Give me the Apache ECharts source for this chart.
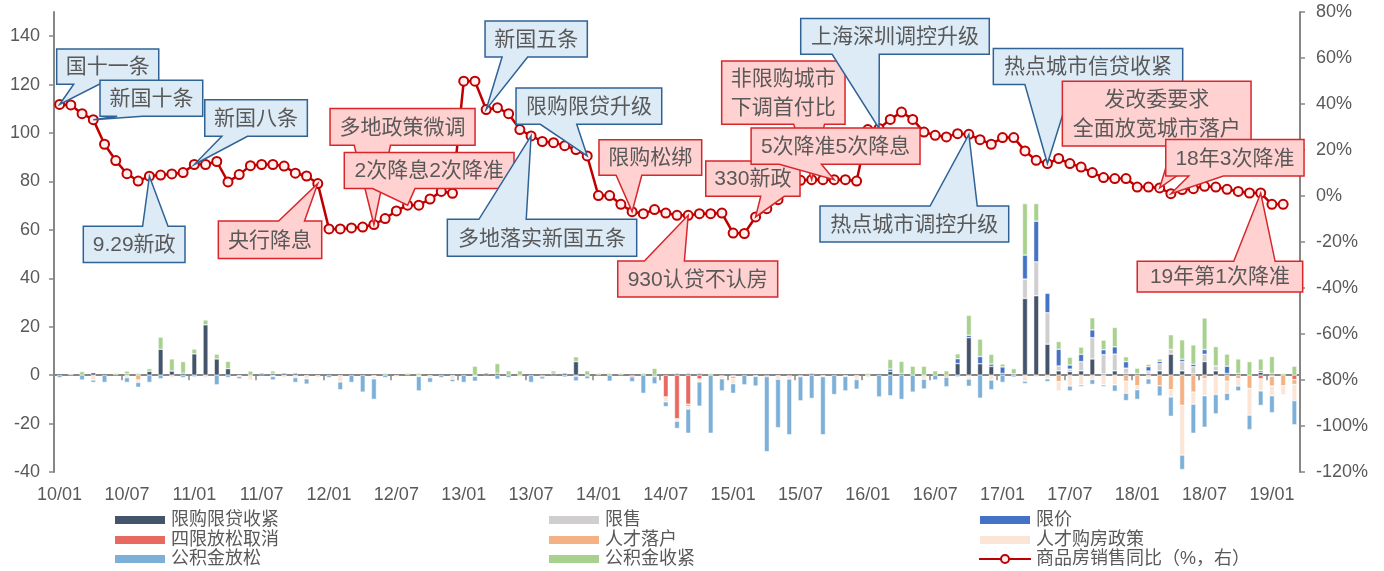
<!DOCTYPE html>
<html>
<head>
<meta charset="utf-8">
<script src="https://cdn.jsdelivr.net/npm/echarts@6/dist/echarts.min.js"></script>
<style>
html,body{margin:0;padding:0;background:#fff;}
#chart{width:1384px;height:571px;}
</style>
</head>
<body>
<div id="chart"></div>
<script>
// ---------- categories (2010/01 .. 2019/03, monthly) ----------
const startYear = 10, monthCount = 111;
const categories = [];
for (let k = 0; k < monthCount; k++) {
  const y = startYear + Math.floor(k / 12), m = (k % 12) + 1;
  categories.push(String(y).padStart(2, '0') + '/' + String(m).padStart(2, '0'));
}
const leftTicks = [-40, -20, 0, 20, 40, 60, 80, 100, 120, 140];

// ---------- bar series (left axis) ----------
const tightenPurchase = [ // 限购限贷收紧
0,0,0,1,0,0,0.5,0,1.6,10.7,
1.7,0.8,8.8,20.8,6.7,2.7,0,0,0,0.8,
0.8,0.8,0,0,0,0,0,0,0,0,
0,0,0,0,0,0,0,0,0.8,0.8,
0,0,0,0,0.8,0.8,5.6,0,0,0,
0,0,0,0,0,0.7,0.7,0.7,0,0,
0,0,0,0,0,0,0,0.7,0,0,
0,0,0,0,1.5,0.7,0,0,0,0,
4.8,15.5,4.7,3.6,0.7,0.5,31.7,32.8,12.8,1.8,
1.5,1.8,6.7,0.5,1.8,0.7,0.7,0.7,1.8,8.7,
1.8,0.5,5.6,1.8,0.7,0.7,0,1.2,0.7,0,0];
const limitSale = [ // 限售
0,0,0,0,0,0,0,0,0,0,
0,0,0,0,0,0,0,0,0,0,
0,0,0,0,0,0,0,0,0,0,
0,0,0,0,0,0,0,0,0,0,
0,0,0,0,0,0,0,0,0,0,
0,0,0,0,0,0,0,0,0,0,
0,0,0,0,0,0,0,0,0,0,
0,0,0,0,0,0,0,0,0,0,
0,0,0,0,0,0,8,14,13,2,
1,3.8,8.8,8,6.9,2.2,0,1,2.9,2,
3.8,3,3,2,0,0,0,0,0,0,0];
const limitPrice = [ // 限价
0,0,0,0,0,0,0,0,0,0,
0,0,0,0,0,0,0,0,0.8,0,
0,0,0,0,0,0,0,0,0,0,
0,0,0,0,0,0,0,0,0,0,
0,0,0,0,0,0,0,0,0,0,
0,0,0,0,0,0,0,0,0,0,
0,0,0,0,0,0,0,0,0,0,
0,0,0,0,1,0,0,0,0,0,
2,1,3,1,2.7,0,9.9,16.8,8,6.9,
1.7,3,3.2,2,3,2.7,0,1.8,1,0,
1,1,2,0,3,0,0,0.7,0,0,0];
const relaxCancel = [ // 四限放松取消
0,0,0,0,0,0,0,0,0,0,
0,0,0,0,0,0,0,0,0,0,
0,0,0,0,0,0,0,0,0,0,
0,0,0,0,0,0,0,0,0,0,
0,0,0,-0.6,0,0,-0.4,0,0,0,
0,-0.7,0,-0.6,-9,-18,-12,-1.6,0,-0.5,
-0.5,0,0,-0.6,0,-0.6,0,0,0,0,
0,0,0,0,0,0,0,0,0,0,
0,0,0,0,0,0,0,0,0,0,
0,0,0,0,0,0,0,0,0,0,
0,0,0,0,0,0,0,-1.5,-0.5,0,-1.8];
const talentHukou = [ // 人才落户
0,0,0,0,0,0,0,-2,0,0,
0,0,0,0,0,0,0,0,0,0,
0,0,0,0,0,0,0,0,-0.5,0,
0,0,0,0,0,0,0,0,0,0,
0,0,0,0,0,0,0,0,0,0,
0,0,0,0,0,0,-1,0,0,0,
-1,0,0,0,0,0,-0.6,0,0,0,
0,0,0,0,0,0,0,0,0,-0.8,
0,-0.6,0,0,0,0,0,0,0,-2.7,
0,0,0,0,0,-2.5,-4.4,0,-4.4,-6,
-12.5,-7,-1.5,0,-2.5,-1.5,-5.5,0,-4,-4.4,-2];
const talentHousing = [ // 人才购房政策
0,0,0,-2,0,0,-1,-1,0,0,
-1,0,0,-1,0,0,-0.5,-2,0,-0.5,
-1,-1,-1.5,-1,0,-2.8,0,0,-1,0,
-0.7,0,-0.5,-1,0,-1.7,0,-0.5,0,0,
0,-0.7,0,0,0,0,0,-0.3,0,0,
0,0,0,0,-2,-1,-1,-1.2,0,-1,
-2,0,-0.5,0,-1.7,-1,0,0,-0.6,0,
-0.5,-1.8,-1,0,0,0,0,-1.7,0,0,
0,-1,0,-2,0,0,-2.5,-0.8,-1.5,-3.8,
-4.5,-4,-1.8,-4,-4,-5,-1.6,-1.5,0,-3,
-20.5,-5,-7,-8,-5,-3,-11,-5,-4,-3.7,-6.7];
const fundRelax = [ // 公积金放松
-1,0,-2,-1,-3,0,-2,-2,-3,-1.5,
0,-1,-0.7,0,-4,-1,-1,0,0,-1.5,
0,-2,-2.2,0,-1,-3.2,-3,-7,-8.5,-1,
0,0,-6,-2,-1,-1,-3,-2,0,-1.7,
-1,0,-3,-1,0,-0.8,-2,-1.2,0,-2.5,
0,-2,-7.5,-3,-2,-3,-10,-10,-24,-5,
-4,-4,-4,-31,-20,-23,-10,-9.6,-24,-8,
-6,-4,0,-9,-8.5,-10,-7,-4,-2,-4,
-0.7,-3,-9.5,-4,-3,-0.8,-1,0,-1.2,0,
-2,-0.7,-2,-0.7,-2.7,-3,-4,-2.3,-4.2,-8,
-6,-12,-13,-8,-3,-2,-6,-6,-7,0,-10];
const fundTighten = [ // 公积金收紧
0,0.5,1.5,0,0,0.8,1.2,0.7,1.1,5,
5,4.8,2,2,2,3,0,1.7,0,1,
0,0,0,0,0,0,0,0,0,0.8,
0,0.8,0.8,0,0,0,0,3.7,0,4,
1.8,1.8,0,0,1,0,2,1.8,0.8,0.8,
0.8,0,0.8,2.8,0,0,0,0,0.7,0,
0,0,0,0,0,0,0,0,0,0,
0,0,0.8,0,4,5,3.7,3.7,1.8,1.8,
2,8.2,7.2,4,1.2,2.2,21.3,7.3,0,3.2,
3.2,3,5,4,8,2,2.2,1,1,6,
8,8,13,8,5,6,5.6,4.8,7,0.7,3.7];

// ---------- line series (right axis, %) ----------
const salesYoY = [
39.8,39.6,35.8,33.2,22.5,15.4,9.7,6.5,8.6,9.1,
9.6,10.2,13.7,13.7,15.0,6.1,9.3,13.2,13.7,13.7,
13.0,9.9,8.7,5.4,-14.3,-14.3,-13.9,-13.5,-12.4,-9.8,
-6.5,-4.0,-4.0,-1.3,2.0,1.2,49.9,49.9,37.6,38.4,
35.8,28.9,26.1,23.7,23.2,21.9,20.2,17.4,0.2,0.2,
-3.6,-6.8,-7.7,-5.9,-7.4,-8.4,-8.4,-7.7,-7.7,-7.4,
-16.1,-16.3,-9.1,-5.5,-1.6,2.5,6.8,7.1,7.1,7.1,
7.1,6.5,28.9,29.4,33.3,36.5,33.3,27.8,26.4,25.7,
27.1,26.8,24.5,22.5,25.4,25.4,19.6,15.5,14.1,16.3,
14.1,12.6,10.2,8.0,7.6,7.6,3.9,3.9,3.5,1.0,
2.8,3.2,4.2,3.9,2.9,2.0,1.3,1.3,-3.6,-3.6];

// ---------- callout annotations: text, anchor point index, box in (category index, % axis) ----------
const callouts = [
  {text:'国十一条', kind:'b', tip:0, box:[-0.26, 8.83, 63.9, 48.6]},
  {text:'新国十条', kind:'b', tip:3, box:[3.6, 12.75, 50.3, 34.65]},
  {text:'新国八条', kind:'b', tip:12, box:[12.93, 22.07, 41.9, 25.96]},
  {text:'9.29新政', kind:'b', tip:8, box:[2.11, 11.17, -13.17, -28.96]},
  {text:'央行降息', kind:'r', tip:23, box:[14.14, 23.35, -10.87, -27.2]},
  {text:'多地政策微调', kind:'r', tip:28, box:[24.09, 37.01, 38.0, 22.04]},
  {text:'2次降息2次降准', kind:'r', tip:31, box:[25.36, 40.48, 18.87, 3.22]},
  {text:'新国五条', kind:'b', tip:38, box:[37.9, 47.01, 76.1, 60.4]},
  {text:'限购限贷升级', kind:'b', tip:47, box:[40.66, 53.64, 46.96, 31.17]},
  {text:'多地落实新国五条', kind:'b', tip:42, box:[34.54, 51.41, -10.13, -26.2]},
  {text:'限购松绑', kind:'r', tip:51, box:[48.05, 57.2, 24.5, 9.0]},
  {text:'930认贷不认房', kind:'r', tip:56, box:[49.72, 63.97, -28.26, -43.9]},
  {text:'330新政', kind:'r', tip:62, box:[57.56, 65.96, 15.2, -0.13]},
  {text:'非限购城市\n下调首付比', kind:'r', tip:67, box:[58.98, 69.97, 58.7, 31.17]},
  {text:'上海深圳调控升级', kind:'b', tip:73, box:[66.02, 82.82, 77.13, 61.6]},
  {text:'5次降准5次降息', kind:'r', tip:69, box:[61.6, 76.65, 29.57, 13.78]},
  {text:'热点城市调控升级', kind:'b', tip:81, box:[67.74, 84.55, -4.35, -20.0]},
  {text:'热点城市信贷收紧', kind:'b', tip:88, box:[83.18, 100.05, 64.1, 48.43]},
  {text:'发改委要求\n全面放宽城市落户', kind:'r', tip:98, box:[89.33, 106.14, 49.87, 21.74]},
  {text:'18年3次降准', kind:'r', tip:99, box:[98.54, 110.86, 24.52, 8.7]},
  {text:'19年第1次降准', kind:'r', tip:107, box:[96.0, 110.74, -28.4, -41.7]}
];

// ---------- styling ----------
const AXIS = '#868686', TXT = '#595959';
const NUMFONT = '"Liberation Sans", Arial, "Noto Sans CJK SC", sans-serif';
const CJKFONT = '"Liberation Sans", "Noto Sans CJK SC", sans-serif';
const barNames = ['限购限贷收紧','限售','限价','四限放松取消','人才落户','人才购房政策','公积金放松','公积金收紧'];
const barData = [tightenPurchase, limitSale, limitPrice, relaxCancel, talentHukou, talentHousing, fundRelax, fundTighten];
const barColors = ['#44546A','#D0CECE','#4472C4','#E8695F','#F4B183','#FBE5D6','#7DB0D8','#A9D18E'];
const lineName = '商品房销售同比（%，右）';

function calloutPoints(L, T, R, B, tx, ty) {
  const w = R - L, h = B - T, cx = (L + R) / 2, cy = (T + B) / 2;
  const dx = tx - cx, dy = ty - cy;
  const dq = dx * h / w;
  if (Math.abs(dy) - Math.abs(dq) > 0) {
    const x1 = L + w * (dx > 0 ? 7 : 2) / 12, x2 = L + w * (dx > 0 ? 10 : 5) / 12;
    if (dy < 0) return [[L,T],[x1,T],[tx,ty],[x2,T],[R,T],[R,B],[L,B]];
    return [[L,T],[R,T],[R,B],[x2,B],[tx,ty],[x1,B],[L,B]];
  } else {
    const y1 = T + h * (dy > 0 ? 7 : 2) / 12, y2 = T + h * (dy > 0 ? 10 : 5) / 12;
    if (dx < 0) return [[L,T],[R,T],[R,B],[L,B],[L,y2],[tx,ty],[L,y1]];
    return [[L,T],[R,T],[R,y1],[tx,ty],[R,y2],[R,B],[L,B]];
  }
}

const series = [];
barNames.forEach((n, k) => {
  series.push({
    name: n, type: 'bar', stack: 'policy', xAxisIndex: 0, yAxisIndex: 0,
    barWidth: 5,
    itemStyle: {color: barColors[k], borderColor: '#ffffff', borderWidth: 0.5},
    data: barData[k].map(v => v === 0 ? null : v)
  });
});
series.push({
  name: lineName, type: 'line', xAxisIndex: 0, yAxisIndex: 1,
  data: salesYoY, symbol: 'circle', symbolSize: 9, z: 4, showAllSymbol: true,
  lineStyle: {color: '#C00000', width: 2.5},
  itemStyle: {color: '#FFF0F0', borderColor: '#C00000', borderWidth: 2}
});
series.push({
  type: 'custom', xAxisIndex: 0, yAxisIndex: 1, z: 6, clip: false, silent: true,
  data: callouts.map(c => [c.tip, salesYoY[c.tip]]),
  renderItem: function (params, api) {
    const a = callouts[params.dataIndex];
    const x0 = api.coord([0, 0])[0];
    const band = api.size([1, 0])[0];
    const X = v => x0 + v * band;
    const Y = v => api.coord([0, v])[1];
    const L = X(a.box[0]), R = X(a.box[1]), T = Y(a.box[2]), B = Y(a.box[3]);
    const tip = api.coord([a.tip, salesYoY[a.tip]]);
    const pts = calloutPoints(L, T, R, B, tip[0], tip[1]);
    const blue = a.kind === 'b';
    return {
      type: 'group',
      children: [
        {type: 'polygon', shape: {points: pts},
         style: {fill: blue ? '#DDEBF7' : '#FFD1D1', stroke: blue ? '#2F6396' : '#D9262B', lineWidth: 1.5}},
        {type: 'text', x: (L + R) / 2, y: (T + B) / 2 + 1,
         style: {text: a.text, fill: TXT, font: '21px ' + CJKFONT, align: 'center', verticalAlign: 'middle', lineHeight: 29}}
      ]
    };
  }
});

// legend grid: 3 columns x 3 rows, one legend component per cell
const legendColumns = [113, 547, 978];
const legendRows = [511, 531, 550];
const legendCells = [
  ['限购限贷收紧', 0, 0], ['限售', 1, 0], ['限价', 2, 0],
  ['四限放松取消', 0, 1], ['人才落户', 1, 1], ['人才购房政策', 2, 1],
  ['公积金放松', 0, 2], ['公积金收紧', 1, 2], [lineName, 2, 2]
];
const legends = legendCells.map(([name, c, r]) => ({
  left: legendColumns[c], top: legendRows[r], padding: 0,
  itemWidth: 52, itemHeight: 10, selectedMode: false,
  textStyle: {fontSize: 18, color: TXT, fontFamily: CJKFONT},
  data: [name === lineName ? name : {name: name, icon: 'rect'}]
}));

const chart = echarts.init(document.getElementById('chart'), null, {renderer: 'canvas'});
chart.setOption({
  animation: false,
  backgroundColor: '#ffffff',
  grid: {left: 54, right: 84, top: 12, bottom: 99, containLabel: false, outerBoundsMode: 'none'},
  legend: legends,
  xAxis: [
    {type: 'category', data: categories, position: 'bottom', boundaryGap: true,
     axisLine: {show: false, onZero: false}, axisTick: {show: false},
     axisLabel: {interval: 5, margin: 14, color: TXT, fontSize: 18, fontFamily: NUMFONT},
     splitLine: {show: false}},
    {type: 'category', data: categories, position: 'bottom', boundaryGap: true,
     axisLine: {show: true, onZero: true, onZeroAxisIndex: 0, lineStyle: {color: AXIS, width: 2}},
     axisTick: {show: true, interval: 5, length: 5, lineStyle: {color: AXIS, width: 1.5}},
     axisLabel: {show: false}, splitLine: {show: false}}
  ],
  yAxis: [
    {type: 'value', position: 'left', min: -40, max: 150, interval: 20,
     axisLine: {show: true, lineStyle: {color: AXIS, width: 2}},
     axisTick: {show: true, length: 5, customValues: leftTicks, lineStyle: {color: AXIS, width: 1.5}},
     axisLabel: {customValues: leftTicks, margin: 14, color: TXT, fontSize: 18, fontFamily: NUMFONT},
     splitLine: {show: false}},
    {type: 'value', position: 'right', min: -120, max: 80, interval: 20,
     axisLine: {show: true, lineStyle: {color: AXIS, width: 2}},
     axisTick: {show: true, length: 5, lineStyle: {color: AXIS, width: 1.5}},
     axisLabel: {formatter: '{value}%', margin: 16, color: TXT, fontSize: 18, fontFamily: NUMFONT},
     splitLine: {show: false}}
  ],
  series: series
});
</script>
</body>
</html>
